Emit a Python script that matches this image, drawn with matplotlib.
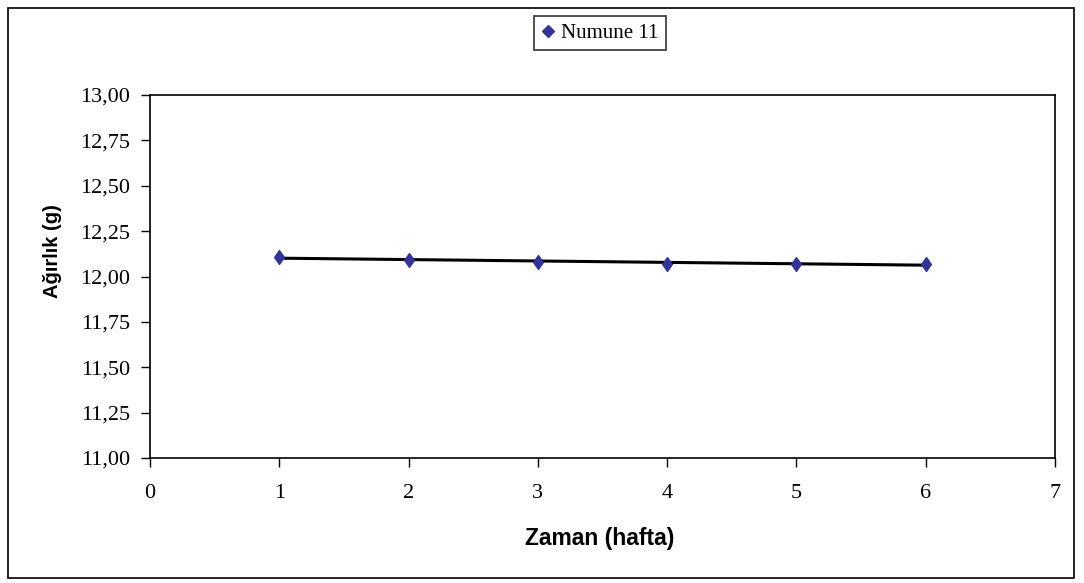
import numpy as np
import matplotlib.pyplot as plt
from matplotlib.ticker import FuncFormatter, MultipleLocator
from matplotlib.patches import Rectangle
from matplotlib.lines import Line2D

weeks = [1, 2, 3, 4, 5, 6]
weight = [12.11, 12.09, 12.08, 12.07, 12.07, 12.07]
series_name = "Numune 11"

W, H = 1084, 583
fig = plt.figure(figsize=(W / 100, H / 100), dpi=100)
ax = fig.add_axes((150 / W, 1 - 458 / H, 905 / W, 363 / H))

# outer chart border
fig.patches.append(Rectangle((8 / W, 5 / H), 1066 / W, 570 / H,
                             transform=fig.transFigure, fill=False,
                             edgecolor="black", linewidth=1.2))

# linear trendline
coef = np.polyfit(weeks, weight, 1)
xt = np.array([weeks[0], weeks[-1]])
ax.plot(xt, np.polyval(coef, xt), color="black", linewidth=2.2, zorder=2)

tall_diamond = [(0, 1), (0.7, 0), (0, -1), (-0.7, 0), (0, 1)]
ax.plot(weeks, weight, linestyle="none", marker=tall_diamond, markersize=10,
        color="#333399", zorder=3)

ax.set_xlim(0, 7)
ax.set_ylim(11, 13)
ax.xaxis.set_major_locator(MultipleLocator(1))
ax.yaxis.set_major_locator(MultipleLocator(0.25))
ax.yaxis.set_major_formatter(FuncFormatter(lambda v, p: f"{v:.2f}".replace(".", ",")))

for lab in ax.get_xticklabels() + ax.get_yticklabels():
    lab.set_fontfamily("Liberation Serif")
    lab.set_fontsize(16)
ax.tick_params(direction="out", length=6.5, width=1)
ax.tick_params(axis="y", pad=8)
ax.tick_params(axis="x", pad=12)
for s in ax.spines.values():
    s.set_linewidth(1.2)

fig.text(600 / W, 1 - 539 / H, "Zaman (hafta)", family="Liberation Sans",
         weight="bold", fontsize=16.5, ha="center", va="center")
fig.text(52 / W, 1 - 251 / H, "Ağırlık (g)", family="Liberation Sans",
         weight="bold", fontsize=14.5, ha="center", va="center", rotation=90)

handle = Line2D([], [], linestyle="none", marker="D", markersize=6.6,
                color="#333399", label=series_name)
leg = fig.legend(handles=[handle], loc="center",
                 bbox_to_anchor=(600 / W, 1 - 33 / H),
                 prop={"family": "Liberation Serif", "size": 15},
                 frameon=True, fancybox=False, edgecolor="black",
                 handlelength=0.6, handletextpad=0.35, borderpad=0.35)
leg.get_frame().set_linewidth(1.2)

fig.savefig("out.png", dpi=100)
